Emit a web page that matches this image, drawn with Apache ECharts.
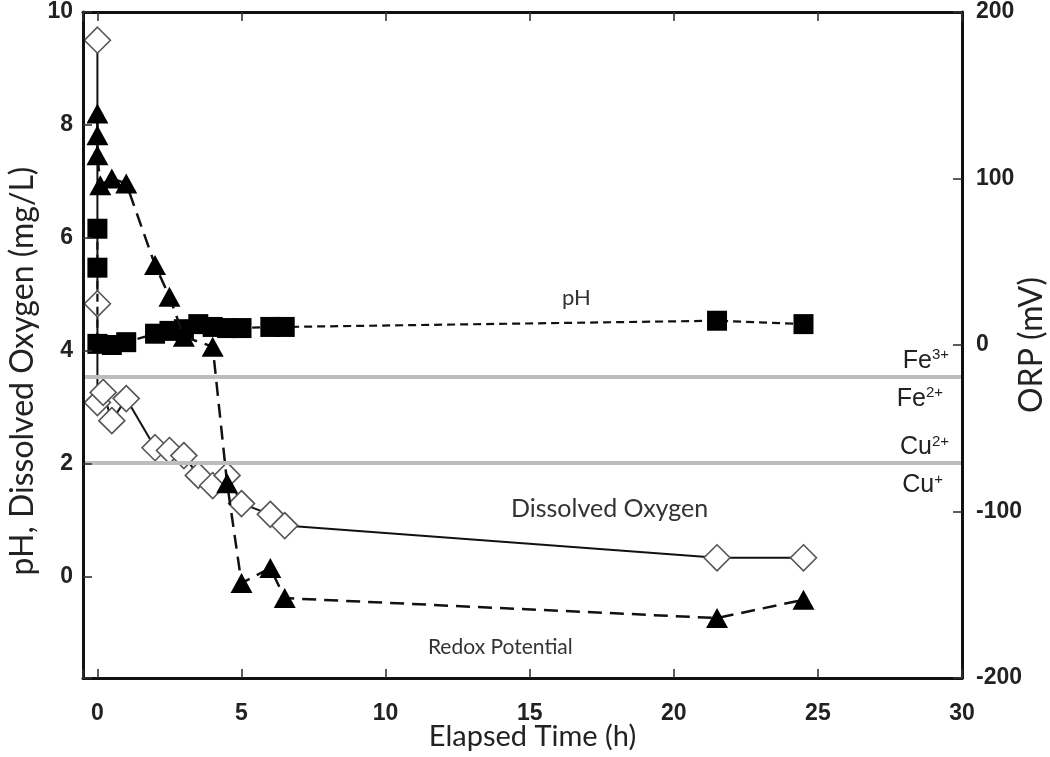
<!DOCTYPE html>
<html>
<head>
<meta charset="utf-8">
<script src="https://cdn.jsdelivr.net/npm/echarts@6/dist/echarts.min.js"></script>
<style>
html,body{margin:0;padding:0;background:#fff;}
#chart{width:1050px;height:757px;}
</style>
</head>
<body>
<div id="chart"></div>
<script>
// ---- data ----
const xTicks = [0, 5, 10, 15, 20, 25, 30];
const leftTicks = [0, 2, 4, 6, 8, 10];
const rightTicks = [-200, -100, 0, 100, 200];

// Dissolved oxygen (mg/L) : [time h, value]
const doTime  = [0, 0, 0, 0.2, 0.5, 1.0, 2.0, 2.5, 3.0, 3.5, 4.0, 4.5, 5.0, 6.0, 6.5, 21.5, 24.5];
const doValue = [9.5, 4.83, 3.08, 3.26, 2.76, 3.15, 2.28, 2.23, 2.14, 1.79, 1.61, 1.79, 1.29, 1.1, 0.9, 0.33, 0.33];

// pH
const phTime  = [0, 0, 0, 0.5, 1.0, 2.0, 2.5, 3.0, 3.5, 4.0, 4.5, 5.0, 6.0, 6.5, 21.5, 24.5];
const phValue = [6.16, 5.47, 4.12, 4.1, 4.15, 4.3, 4.35, 4.38, 4.47, 4.42, 4.4, 4.4, 4.42, 4.42, 4.53, 4.47];

// ORP (mV)
const orpTime  = [0, 0, 0, 0.1, 0.5, 1.0, 2.0, 2.5, 3.0, 4.0, 4.5, 5.0, 6.0, 6.5, 21.5, 24.5];
const orpValue = [139, 126, 114, 96, 100, 97, 48, 29, 5, -1, -83, -143, -134, -152, -164, -153];

// redox couples (mV)
const feCouple = -19;
const cuCouple = -71;

// in-plot text annotations [time, left-axis value, text, font size]
const annotations = [
  [16.62, 4.94, 'pH', 22],
  [17.77, 1.2, 'Dissolved Oxygen', 25],
  [13.98, -1.26, 'Redox Potential', 21]
];

const zip = (a, b) => a.map((v, i) => [v, b[i]]);

const chart = echarts.init(document.getElementById('chart'), null, {renderer: 'canvas'});

const tickLabelStyle = {
  fontFamily: 'Liberation Sans, Arial, sans-serif',
  fontWeight: 'bold',
  fontSize: 23,
  color: '#222'
};
const nameFont = 'Lato, Liberation Sans, sans-serif';
const onlyTicks = list => (v => (list.indexOf(Math.round(v * 1000) / 1000) >= 0 ? String(Math.round(v)) : ''));

const coupleLabel = (top, bottom, pos, dist) => ({
  show: true,
  position: pos,
  distance: dist,
  padding: [0, 10, 0, 0],
  formatter: '{n|' + top + '}{s|' + bottom + '}',
  rich: {
    n: {fontFamily: 'Liberation Sans, Arial, sans-serif', fontSize: 25, color: '#222', lineHeight: 26},
    s: {fontFamily: 'Liberation Sans, Arial, sans-serif', fontSize: 15, color: '#222', verticalAlign: 'top', lineHeight: 16}
  }
});

const tickStyle = {color: '#333', width: 1.6};
const frameLine = {show: true, onZero: false, lineStyle: {color: '#111', width: 3}};

const option = {
  animation: false,
  backgroundColor: '#fff',
  grid: {
    left: 83, right: 88, top: 12, bottom: 79,
    outerBoundsMode: 'none',
    containLabel: false,
    show: false
  },
  xAxis: [{
    type: 'value', min: -0.5, max: 30, splitNumber: 5, position: 'bottom',
    name: 'Elapsed Time (h)', nameLocation: 'middle', nameGap: 44, nameMoveOverlap: false,
    nameTextStyle: {fontFamily: nameFont, fontSize: 29, color: '#222', padding: [0, 0, 0, 20]},
    axisLine: frameLine,
    axisTick: {show: true, inside: true, length: 9, lineStyle: tickStyle},
    axisLabel: Object.assign({margin: 24, formatter: onlyTicks(xTicks), showMinLabel: true, showMaxLabel: true}, tickLabelStyle),
    splitLine: {show: false},
    z: 10
  }, {
    type: 'value', min: -0.5, max: 30, splitNumber: 5, position: 'top',
    axisLine: frameLine,
    axisTick: {show: true, inside: true, length: 9, lineStyle: tickStyle},
    axisLabel: {show: false},
    splitLine: {show: false},
    z: 10
  }],
  yAxis: [{
    type: 'value', min: -1.8, max: 10, splitNumber: 5, position: 'left',
    name: 'pH, Dissolved Oxygen (mg/L)', nameLocation: 'middle', nameRotate: 90, nameGap: 44, nameMoveOverlap: false,
    nameTextStyle: {fontFamily: nameFont, fontSize: 32, color: '#222', padding: [0, 52, 0, 0]},
    axisLine: frameLine,
    axisTick: {show: true, inside: true, length: 9, lineStyle: tickStyle},
    axisLabel: Object.assign({margin: 10, formatter: onlyTicks(leftTicks)}, tickLabelStyle),
    splitLine: {show: false},
    z: 10
  }, {
    type: 'value', min: -200, max: 200, interval: 100, position: 'right',
    name: 'ORP (mV)', nameLocation: 'middle', nameRotate: 90, nameGap: 54, nameMoveOverlap: false,
    nameTextStyle: {fontFamily: nameFont, fontSize: 32, color: '#222'},
    axisLine: frameLine,
    axisTick: {show: true, inside: true, length: 9, lineStyle: tickStyle},
    axisLabel: Object.assign({margin: 14, formatter: onlyTicks(rightTicks)}, tickLabelStyle),
    splitLine: {show: false},
    z: 10
  }],
  series: [{
    name: 'Dissolved Oxygen', type: 'line', xAxisIndex: 0, yAxisIndex: 0,
    data: zip(doTime, doValue),
    symbol: 'diamond', symbolSize: 26,
    itemStyle: {color: '#fff', borderColor: '#555', borderWidth: 1.6},
    lineStyle: {color: '#111', width: 2},
    z: 2,
    markPoint: {
      silent: true,
      symbol: 'circle', symbolSize: 0,
      data: annotations.map(a => ({
        coord: [a[0], a[1]], value: a[2],
        label: {show: true, position: 'inside', formatter: a[2], fontFamily: nameFont, fontSize: a[3], color: '#333'}
      }))
    }
  }, {
    name: 'pH', type: 'line', xAxisIndex: 0, yAxisIndex: 0,
    data: zip(phTime, phValue),
    symbol: 'rect', symbolSize: 20,
    itemStyle: {color: '#000'},
    lineStyle: {color: '#111', width: 2.2, type: [8, 5]},
    z: 3
  }, {
    name: 'ORP', type: 'line', xAxisIndex: 0, yAxisIndex: 1,
    data: zip(orpTime, orpValue),
    symbol: 'triangle', symbolSize: [22, 20],
    itemStyle: {color: '#000'},
    lineStyle: {color: '#111', width: 2.5, type: [14, 8]},
    z: 4,
    markLine: {
      silent: true,
      symbol: ['none', 'none'],
      lineStyle: {color: '#bdbdbd', width: 4, type: 'solid'},
      data: [
        {yAxis: feCouple, label: coupleLabel('Fe', '3+', 'insideEndTop', 3)},
        {yAxis: feCouple, label: coupleLabel('Fe', '2+', 'insideEndBottom', 9)},
        {yAxis: cuCouple, label: coupleLabel('Cu', '2+', 'insideEndTop', 3)},
        {yAxis: cuCouple, label: coupleLabel('Cu', '+', 'insideEndBottom', 9)}
      ]
    }
  }]
};
chart.setOption(option);
</script>
</body>
</html>
